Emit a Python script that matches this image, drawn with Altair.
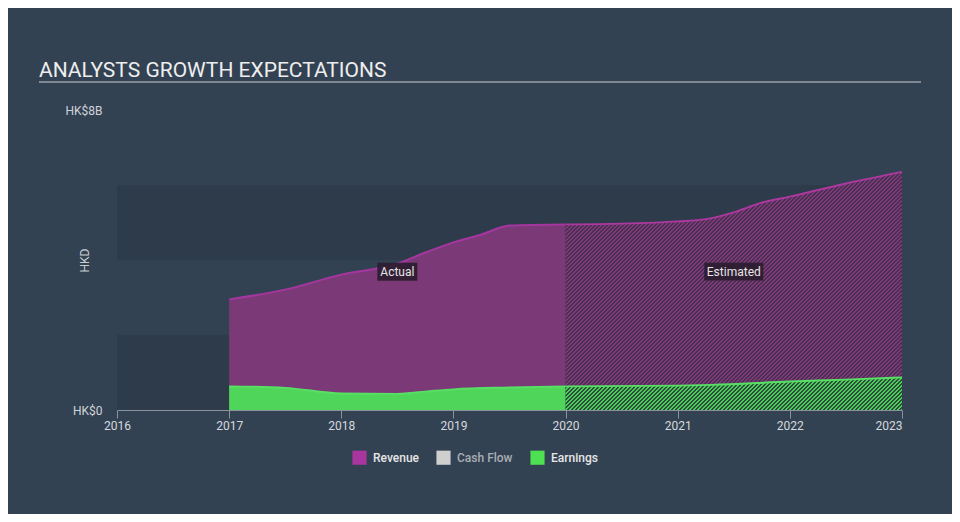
import altair as alt
import pandas as pd
import math

TITLE = "ANALYSTS GROWTH EXPECTATIONS"

# Revenue (HK$ billions)
rev_act_years = [2017.0, 2017.5, 2018.0, 2018.5, 2018.75, 2019.0, 2019.25, 2019.5, 2020.0]
rev_act_vals = [2.95, 3.21, 3.61, 3.90, 4.20, 4.47, 4.68, 4.92, 4.95]
rev_est_years = [2020.0, 2020.5, 2021.0, 2021.25, 2021.5, 2021.75, 2022.0, 2022.5, 2023.0]
rev_est_vals = [4.95, 4.97, 5.03, 5.09, 5.27, 5.53, 5.69, 6.04, 6.35]

# Earnings (HK$ billions)
earn_act_years = [2017.0, 2017.5, 2018.0, 2018.5, 2018.75, 2019.0, 2019.5, 2020.0]
earn_act_vals = [0.63, 0.59, 0.44, 0.43, 0.49, 0.55, 0.60, 0.63]
earn_est_years = [2020.0, 2021.0, 2021.3, 2022.0, 2022.5, 2023.0]
earn_est_vals = [0.63, 0.65, 0.67, 0.76, 0.81, 0.87]

x_ticks = [2016, 2017, 2018, 2019, 2020, 2021, 2022, 2023]
y_ticks = [0, 8]

band_lo = [0, 4]
band_hi = [2, 6]

label_text = ["Actual", "Estimated"]
label_year = [2018.5, 2021.5]
label_val = [3.69, 3.69]

legend_series = ["Revenue", "Cash Flow", "Earnings"]
legend_colors = ["#a9359f", "#cfcfcf", "#4ee052"]

BG = "#334253"
BAND = "#2e3b4a"
W_PLOT, H_PLOT = 785, 300
X_DOM = [2016, 2023]
Y_DOM = [0, 8]


def hatch(c1, c2, w, h, period=4.0, duty=0.5):
    n = int(math.ceil((w + h) / period))
    L = n * period
    stops = []
    for i in range(n):
        a = i / n
        m = (i + duty) / n
        b = (i + 1) / n
        stops += [
            alt.GradientStop(offset=a, color=c1),
            alt.GradientStop(offset=m, color=c1),
            alt.GradientStop(offset=m, color=c2),
            alt.GradientStop(offset=b, color=c2),
        ]
    d = w * w + h * h
    return alt.LinearGradient(gradient="linear", stops=stops, x1=0, y1=0,
                              x2=w * L / d, y2=h * L / d)


px_year = W_PLOT / (X_DOM[1] - X_DOM[0])
est_w = (rev_est_years[-1] - rev_est_years[0]) * px_year
rev_h = max(rev_est_vals) / Y_DOM[1] * H_PLOT
earn_h = max(earn_est_vals) / Y_DOM[1] * H_PLOT

x_axis = alt.Axis(
    values=x_ticks, format="d", title=None, grid=False,
    domainColor="#8a939c", tickColor="#8a939c", tickSize=8, labelPadding=2,
    labelColor="#d6d9dc", labelFontSize=12, labelFont="Roboto",
    labelAlign={"condition": {"test": "datum.value == 2023", "value": "right"}, "value": "center"},
    zindex=1,
)
y_axis = alt.Axis(
    values=y_ticks, grid=False, domain=False, ticks=False, labelPadding=15,
    labelExpr="datum.value == 0 ? 'HK$0' : 'HK$' + datum.value + 'B'",
    labelColor="#d0d4d8", labelFontSize=12, labelFont="Roboto",
    title="HKD", titleColor="#c8ccd0", titleFontSize=12, titleFontWeight="normal",
    titleFont="Roboto", titleAngle=270, titleX=-33, titleY=150,
    titleBaseline="middle", titleAlign="center",
)

X = alt.X("year:Q", scale=alt.Scale(domain=X_DOM, nice=False, zero=False), axis=x_axis)
Y = alt.Y("value:Q", scale=alt.Scale(domain=Y_DOM, nice=False), axis=y_axis)

bands_df = pd.DataFrame({"year": [X_DOM[0]] * 2, "year2": [X_DOM[1]] * 2,
                         "value": band_lo, "value2": band_hi})
bands = alt.Chart(bands_df).mark_rect(color=BAND).encode(
    x=X, x2="year2:Q", y=Y, y2="value2:Q")

rev_act = alt.Chart(pd.DataFrame({"year": rev_act_years, "value": rev_act_vals})).mark_area(
    interpolate="monotone", fill="#7b3a77", opacity=1,
    line={"stroke": "#a6369f", "strokeWidth": 2}).encode(x=X, y=Y)
rev_est = alt.Chart(pd.DataFrame({"year": rev_est_years, "value": rev_est_vals})).mark_area(
    interpolate="monotone", fill=hatch("#7d3a7a", "#4b2f51", est_w, rev_h), opacity=1,
    line={"stroke": "#ad389f", "strokeWidth": 2}).encode(x=X, y=Y)
earn_act = alt.Chart(pd.DataFrame({"year": earn_act_years, "value": earn_act_vals})).mark_area(
    interpolate="monotone", fill="#4fd65a", opacity=1,
    line={"stroke": "#58e064", "strokeWidth": 2}).encode(x=X, y=Y)
earn_est = alt.Chart(pd.DataFrame({"year": earn_est_years, "value": earn_est_vals})).mark_area(
    interpolate="monotone", fill=hatch("#4ccc58", "#2c4d3b", est_w, earn_h, duty=0.45),
    opacity=1, line={"stroke": "#58e064", "strokeWidth": 2}).encode(x=X, y=Y)

lab_df = pd.DataFrame({"label": label_text, "year": label_year, "value": label_val})
box_actual = alt.Chart(lab_df).transform_filter("datum.label == 'Actual'").mark_point(
    shape="M-1,-0.45L1,-0.45L1,0.45L-1,0.45Z", size=1600, filled=True,
    color="#2a1d2d", opacity=0.9).encode(x=X, y=Y)
box_est = alt.Chart(lab_df).transform_filter("datum.label == 'Estimated'").mark_point(
    shape="M-1,-0.305L1,-0.305L1,0.305L-1,0.305Z", size=3481, filled=True,
    color="#2a1d2d", opacity=0.9).encode(x=X, y=Y)
labels = alt.Chart(lab_df).mark_text(
    color="#e6e6e6", fontSize=12, font="Roboto", baseline="middle", align="center").encode(
    x=X, y=Y, text="label:N")

title_df = pd.DataFrame({"t": [TITLE]})
title = alt.Chart(title_df).mark_text(
    align="left", baseline="alphabetic", fontSize=21, font="Roboto", color="#eeeeee").encode(
    x=alt.value(-78), y=alt.value(-33), text="t:N")
underline = alt.Chart(title_df).mark_rule(color="#9aa0a8", strokeWidth=1.5).encode(
    x=alt.value(-78), x2=alt.value(804), y=alt.value(-28))

legend_df = pd.DataFrame({"series": legend_series, "year": [X_DOM[0]] * 3, "value": [0] * 3})
legend_layer = alt.Chart(legend_df).mark_square(opacity=0, size=0).encode(
    x=X, y=Y,
    color=alt.Color("series:N",
                    scale=alt.Scale(domain=legend_series, range=legend_colors),
                    legend=alt.Legend(title=None, orient="none", legendX=235, legendY=340,
                                      direction="horizontal", symbolType="square",
                                      symbolSize=200, symbolOpacity=1, symbolStrokeWidth=0,
                                      labelColor=alt.ExprRef(
                                          "datum.label == 'Cash Flow' ? '#a9aeb4' : '#e6e6e6'"),
                                      labelFont="Roboto",
                                      labelFontSize=12, labelFontWeight=500,
                                      columnPadding=17, labelOffset=6)),
)

chart = alt.layer(
    bands, rev_act, rev_est, earn_act, earn_est,
    box_actual, box_est, labels, title, underline, legend_layer,
).properties(
    width=W_PLOT, height=H_PLOT,
    autosize=alt.AutoSizeParams(type="none"),
    padding={"left": 109, "top": 102, "right": 50, "bottom": 104},
    background=BG,
).configure(font="Roboto").configure_view(stroke=None)

chart.save("out.html", embed_options={"renderer": "svg", "actions": False})
